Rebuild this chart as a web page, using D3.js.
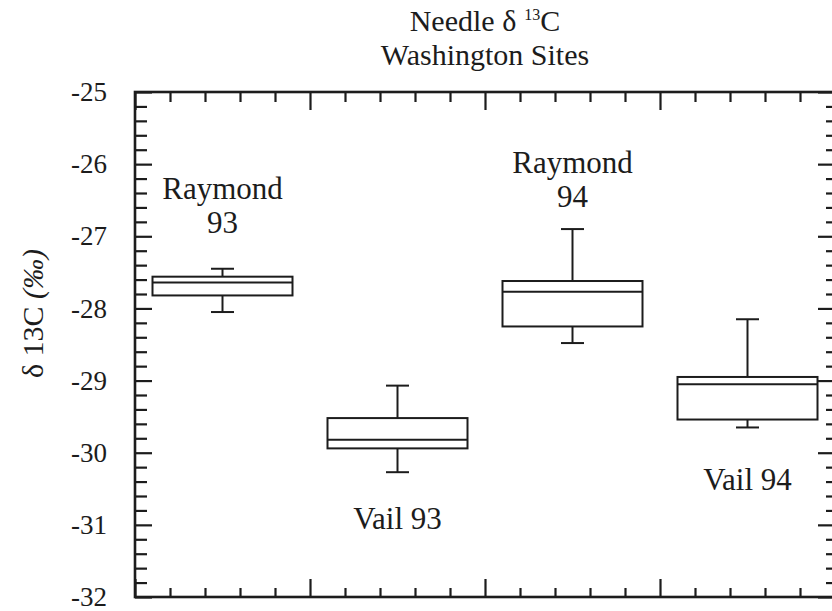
<!DOCTYPE html>
<html>
<head>
<meta charset="utf-8">
<script src="https://cdn.jsdelivr.net/npm/d3@7"></script>
<style>
  body { margin: 0; background: #fff; }
  svg text { font-family: "Liberation Serif", "Times New Roman", "DejaVu Serif", serif; }
</style>
</head>
<body>
<svg id="chart" width="832" height="611"></svg>
<script>
// box plot values (per mil)
const sites = ["Raymond 93", "Vail 93", "Raymond 94", "Vail 94"];
const sitePos = [0.5, 1.5, 2.5, 3.5];
const whiskerHigh = [-27.45, -29.07, -26.90, -28.15];
const q3 = [-27.56, -29.52, -27.62, -28.95];
const median = [-27.64, -29.82, -27.77, -29.05];
const q1 = [-27.82, -29.94, -28.25, -29.54];
const whiskerLow = [-28.05, -30.27, -28.48, -29.65];

const labelLines = [["Raymond", "93"], ["Vail 93"], ["Raymond", "94"], ["Vail 94"]];
const labelAt = [-26.49, -31.06, -26.12, -30.52]; // first baseline, in data units

const yTicks = [-25, -26, -27, -28, -29, -30, -31, -32];

const serif = '"Liberation Serif", "Times New Roman", "DejaVu Serif", serif';
const svg = d3.select("#chart");
const margin = {left: 135, right: -3, top: 92, bottom: 14};
const W = 832, H = 611;
const ink = "#1c1c1c";

const x = d3.scaleLinear().domain([0, 4]).range([margin.left, W - margin.right]);
const y = d3.scaleLinear().domain([-32, -25]).range([H - margin.bottom, margin.top]);

const xMajor = d3.range(0, 4.01, 1);
const xMinor = d3.range(0, 4.001, 0.2).filter(v => Math.abs(v - Math.round(v)) > 1e-6);
const yMinor = d3.range(-32, -24.99, 0.2).filter(v => Math.abs(v - Math.round(v)) > 1e-6);

function styleAxis(g) {
  g.attr("font-family", serif);
  g.select(".domain").remove();
  g.selectAll("line").attr("stroke", ink).attr("stroke-width", 2.2);
  g.selectAll("text").attr("fill", ink).attr("font-size", 27);
}

// left
svg.append("g").attr("transform", `translate(${x(0)},0)`)
  .call(d3.axisLeft(y).tickValues(yTicks).tickSizeInner(-17).tickSizeOuter(0).tickPadding(28).tickFormat(d => String(d)))
  .call(styleAxis);
svg.append("g").attr("transform", `translate(${x(0)},0)`)
  .call(d3.axisLeft(y).tickValues(yMinor).tickSizeInner(-12).tickSizeOuter(0).tickFormat(""))
  .call(styleAxis);
// right
svg.append("g").attr("transform", `translate(${x(4)},0)`)
  .call(d3.axisRight(y).tickValues(yTicks).tickSizeInner(-17).tickSizeOuter(0).tickFormat(""))
  .call(styleAxis);
svg.append("g").attr("transform", `translate(${x(4)},0)`)
  .call(d3.axisRight(y).tickValues(yMinor).tickSizeInner(-9).tickSizeOuter(0).tickFormat(""))
  .call(styleAxis);
// bottom
svg.append("g").attr("transform", `translate(0,${y(-32)})`)
  .call(d3.axisBottom(x).tickValues(xMajor).tickSizeInner(-18).tickSizeOuter(0).tickFormat(""))
  .call(styleAxis);
svg.append("g").attr("transform", `translate(0,${y(-32)})`)
  .call(d3.axisBottom(x).tickValues(xMinor).tickSizeInner(-9).tickSizeOuter(0).tickFormat(""))
  .call(styleAxis);
// top
svg.append("g").attr("transform", `translate(0,${y(-25)})`)
  .call(d3.axisTop(x).tickValues(xMajor).tickSizeInner(-18).tickSizeOuter(0).tickFormat(""))
  .call(styleAxis);
svg.append("g").attr("transform", `translate(0,${y(-25)})`)
  .call(d3.axisTop(x).tickValues(xMinor).tickSizeInner(-10).tickSizeOuter(0).tickFormat(""))
  .call(styleAxis);

// frame
svg.append("rect")
  .attr("x", x(0)).attr("y", y(-25))
  .attr("width", x(4) - x(0)).attr("height", y(-32) - y(-25))
  .attr("fill", "none").attr("stroke", ink).attr("stroke-width", 2.6);

// boxes
const data = sites.map((s, i) => ({
  site: s, pos: sitePos[i], hi: whiskerHigh[i], q3: q3[i], med: median[i], q1: q1[i], lo: whiskerLow[i]
}));
const boxW = x(0.8) - x(0);
const capW = 23;

const box = svg.append("g").selectAll("g").data(data).join("g")
  .attr("stroke", ink).attr("stroke-width", 2).attr("fill", "none");

box.append("line")
  .attr("x1", d => x(d.pos)).attr("x2", d => x(d.pos))
  .attr("y1", d => y(d.hi)).attr("y2", d => y(d.q3));
box.append("line")
  .attr("x1", d => x(d.pos)).attr("x2", d => x(d.pos))
  .attr("y1", d => y(d.q1)).attr("y2", d => y(d.lo));
box.append("line")
  .attr("x1", d => x(d.pos) - capW / 2).attr("x2", d => x(d.pos) + capW / 2)
  .attr("y1", d => y(d.hi)).attr("y2", d => y(d.hi));
box.append("line")
  .attr("x1", d => x(d.pos) - capW / 2).attr("x2", d => x(d.pos) + capW / 2)
  .attr("y1", d => y(d.lo)).attr("y2", d => y(d.lo));
box.append("rect")
  .attr("x", d => x(d.pos) - boxW / 2).attr("width", boxW)
  .attr("y", d => y(d.q3)).attr("height", d => y(d.q1) - y(d.q3))
  .attr("fill", "#fff");
box.append("line")
  .attr("x1", d => x(d.pos) - boxW / 2).attr("x2", d => x(d.pos) + boxW / 2)
  .attr("y1", d => y(d.med)).attr("y2", d => y(d.med));

// site labels
svg.append("g").selectAll("text").data(data).join("text")
  .attr("x", d => x(d.pos))
  .attr("y", (d, i) => y(labelAt[i]))
  .attr("text-anchor", "middle")
  .attr("font-family", serif)
  .attr("font-size", 31)
  .attr("fill", ink)
  .each(function (d, i) {
    d3.select(this).selectAll("tspan").data(labelLines[i]).join("tspan")
      .attr("x", x(d.pos))
      .attr("dy", (t, j) => j === 0 ? 0 : 34)
      .text(t => t);
  });

// title
const midX = (x(0) + x(4)) / 2;
const t1 = svg.append("text").attr("x", midX).attr("y", 31)
  .attr("text-anchor", "middle").attr("font-family", serif).attr("font-size", 30).attr("fill", ink);
t1.append("tspan").text("Needle δ");
t1.append("tspan").attr("font-size", 16).attr("dx", 8).attr("dy", -11).text("13");
t1.append("tspan").attr("dy", 11).text("C");
svg.append("text").attr("x", midX).attr("y", 65)
  .attr("text-anchor", "middle").attr("font-family", serif).attr("font-size", 30).attr("fill", ink)
  .text("Washington Sites");

// y axis title
const yt = svg.append("text")
  .attr("transform", `translate(32,${(y(-25) + y(-32)) / 2 - 31}) rotate(-90)`)
  .attr("text-anchor", "middle").attr("dominant-baseline", "central")
  .attr("font-family", serif).attr("font-size", 30).attr("fill", ink);
yt.append("tspan").text("δ 13C ");
yt.append("tspan").attr("font-style", "italic").text("(‰)");
</script>
</body>
</html>
